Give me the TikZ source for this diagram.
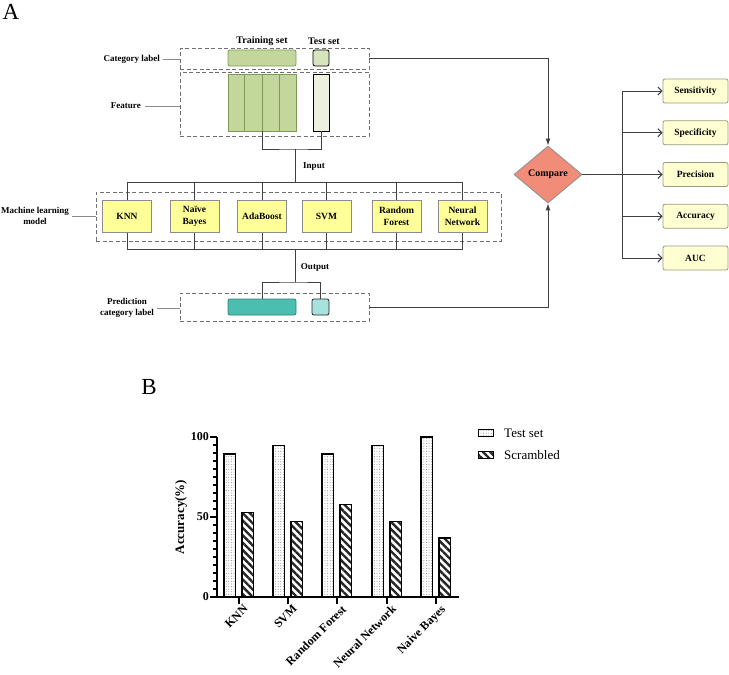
\documentclass[tikz,border=0pt]{standalone}
\usepackage{fontspec}
\setmainfont{Liberation Serif}
\usetikzlibrary{shapes.geometric,arrows.meta,patterns.meta,calc}
\definecolor{dashgray}{HTML}{707070}
\definecolor{conncol}{HTML}{404040}
\definecolor{sidegray}{HTML}{8A8A8A}
\definecolor{mlyellow}{HTML}{FFFF99}
\definecolor{boxgray}{HTML}{8C8C8C}
\definecolor{metricfill}{HTML}{FFFFD2}
\definecolor{metricborder}{HTML}{9A9A80}
\definecolor{trgreen}{HTML}{C3D69B}
\definecolor{trborder}{HTML}{7F9A55}
\definecolor{tecat}{HTML}{D7E4BD}
\definecolor{tefeat}{HTML}{EBF1DE}
\definecolor{teal1}{HTML}{4BBFAF}
\definecolor{teal2}{HTML}{A8E2DC}
\definecolor{tealborder}{HTML}{2F7F74}
\definecolor{salmon}{HTML}{F08C78}
\begin{document}
\begin{tikzpicture}[x=1pt,y=-1pt,
  lbl/.style={font=\fontsize{9}{10.5}\selectfont\bfseries, inner sep=0pt, align=center},
  hdr/.style={font=\fontsize{10}{12}\selectfont\bfseries, inner sep=0pt},
  dbox/.style={draw=dashgray, dash pattern=on 4pt off 2.5pt, line width=0.8pt, inner sep=0pt},
  mlbox/.style={draw=boxgray, fill=mlyellow, line width=0.8pt, minimum width=49pt, minimum height=32pt, inner sep=1pt, align=center, font=\fontsize{9.5}{11.7}\selectfont\bfseries},
  metric/.style={draw=metricborder, fill=metricfill, rounded corners=2pt, minimum width=65pt, minimum height=24pt, inner sep=0pt, line width=0.8pt, font=\fontsize{9.5}{11}\selectfont\bfseries},
  conn/.style={draw=conncol, line width=1pt},
  side/.style={draw=sidegray, line width=0.8pt},
  marr/.style={conn, -{Straight Barb[length=4pt,width=8pt]}},
  darr/.style={conn, -{Latex[length=7pt,width=5pt]}},
  bar/.style={draw=black, line width=1.4pt},
  testbar/.style={bar, pattern={Dots[distance=2.6pt,radius=0.45pt]}, pattern color=black!55},
  scrbar/.style={bar, pattern={Lines[angle=-45,distance=5.2pt,line width=2.4pt]}, pattern color=black!85},
  axis/.style={draw=black, line width=1.5pt},
  ticklbl/.style={font=\fontsize{12}{14}\selectfont\bfseries, inner sep=0pt}
]
\useasboundingbox (0,0) rectangle (729,675);

% ---------- Panel labels ----------
\node[font=\fontsize{23}{26}\selectfont, inner sep=0pt] (labA) at (11,12) {A};
\node[font=\fontsize{23}{26}\selectfont, inner sep=0pt] (labB) at (149,387) {B};

% ---------- Data boxes ----------
\node[dbox, minimum width=189pt, minimum height=21pt] (catbox) at (274.5,58.5) {};
\node[dbox, minimum width=189pt, minimum height=64pt] (featbox) at (274.5,104) {};
\node[draw=trborder, fill=trgreen, line width=0.8pt, rounded corners=2pt, minimum width=68pt, minimum height=16pt, inner sep=0pt] (trcat) at (262,58) {};
\node[draw=black, fill=tecat, line width=0.8pt, rounded corners=2pt, minimum width=16pt, minimum height=16pt, inner sep=0pt] (tecat) at (321,58) {};
\node[draw=trborder, fill=trgreen, line width=0.8pt, minimum width=68pt, minimum height=57pt, inner sep=0pt] (ftr) at (262,102.5) {};
\foreach \f in {0.25,0.5,0.75}
  \draw[draw=trborder, line width=0.8pt] ($(ftr.north west)!\f!(ftr.north east)$) -- ($(ftr.south west)!\f!(ftr.south east)$);
\node[draw=black, fill=tefeat, line width=0.8pt, minimum width=16pt, minimum height=57pt, inner sep=0pt] (fte) at (321,102.5) {};

\node[hdr] (trlbl) at (262,41) {Training set};
\node[hdr] (telbl) at (324,41) {Test set};

\node[lbl, anchor=east] (catlbl) at (160,59) {Category label};
\draw[side] ([xshift=3pt]catlbl.east) -- (catlbl.east -| catbox.west);
\node[lbl, anchor=east] (featlbl) at (141,106) {Feature};
\draw[side] ([xshift=4pt]featlbl.east) -- (featlbl.east -| featbox.west);

% ---------- Input ----------
\coordinate (injoin) at (295,149);
\coordinate (intop) at (295,182);
\draw[conn] (ftr.south) |- (injoin) -| (fte.south);
\draw[conn] (injoin) -- (intop);
\node[lbl] (inlbl) at (314,167) {Input};

% ---------- ML models ----------
\node[dbox, minimum width=405pt, minimum height=49pt] (mlbox) at (298.5,216.5) {};
\coordinate (outtop) at (295,249);
\coordinate (outjoin) at (295,282);
\foreach \n/\x/\t in {knn/127/KNN, nb/194.5/{Naïve\\Bayes}, ada/262/AdaBoost, svm/326.5/SVM, rf/396.5/{Random\\Forest}, nn/462.5/{Neural\\Network}}{
  \draw[conn] (\x,182) -- (\x,249);
  \node[mlbox] (\n) at (\x,216) {\t};
}
\draw[conn] (knn.north |- intop) -- (nn.north |- intop);
\draw[conn] (knn.south |- outtop) -- (nn.south |- outtop);
\node[lbl] (mllbl) at (35,216) {Machine learning\\model};
\draw[side] ([xshift=3pt]mllbl.east) -- (mllbl.east -| mlbox.west);

% ---------- Output ----------
\node[dbox, minimum width=189pt, minimum height=28pt] (predbox) at (274.5,307) {};
\node[draw=tealborder, fill=teal1, line width=0.8pt, rounded corners=2pt, minimum width=68pt, minimum height=16pt, inner sep=0pt] (prtr) at (262,307) {};
\node[draw=black!85, fill=teal2, line width=0.8pt, rounded corners=2pt, minimum width=17pt, minimum height=16pt, inner sep=0pt] (prte) at (320.5,307) {};
\draw[conn] (outtop) -- (outjoin);
\draw[conn] (prtr.north) |- (outjoin) -| (prte.north);
\node[lbl] (outlbl) at (315,267) {Output};
\node[lbl] (predlbl) at (127,308) {Prediction\\category label};
\draw[side] ([xshift=3pt]predlbl.east) -- (predlbl.east -| predbox.west);

% ---------- Compare ----------
\node[diamond, draw=boxgray, fill=salmon, line width=0.8pt, minimum width=68pt, minimum height=57pt, inner sep=0pt, font=\fontsize{10}{12}\selectfont\bfseries] (cmp) at (548,174.5) {Compare};
\draw[darr] (catbox.east) -| (cmp.north);
\draw[darr] (predbox.east) -| (cmp.south);

\node[metric] (sens) at (695.5,91) {Sensitivity};
\node[metric] (spec) at (695.5,132.75) {Specificity};
\node[metric] (prec) at (695.5,174.5) {Precision};
\node[metric] (accu) at (695.5,216.25) {Accuracy};
\node[metric] (auc) at (695.5,258) {AUC};
\coordinate (mx) at (622,174.5);
\draw[conn] (sens.west -| mx) -- (auc.west -| mx);
\draw[marr] (cmp.east) -- (prec.west);
\foreach \m in {sens,spec,accu,auc}
  \draw[marr] (\m.west -| mx) -- (\m.west);

% ---------- Chart ----------
\foreach \t/\a/\b in {239/89.47/52.63, 288/94.74/47.37, 337/89.47/57.89, 387/94.74/47.37, 436/100/36.84}{
  \draw[testbar] ({\t-15},597) rectangle ({\t-3.5},{597-1.6*\a});
  \draw[scrbar] ({\t+3},597) rectangle ({\t+14.5},{597-1.6*\b});
  \draw[axis] (\t,597) -- (\t,604);
}
\foreach \v in {5,10,...,95}
  \draw[draw=black, line width=1.2pt] (213,{597-1.6*\v}) -- (217,{597-1.6*\v});
\foreach \v in {0,50,100}{
  \draw[draw=black, line width=1.4pt] (210,{597-1.6*\v}) -- (217,{597-1.6*\v});
  \node[ticklbl, anchor=east] at (209,{597-1.6*\v}) {\v};
}
\draw[axis] (217,437) -- (217,597) -- (459,597);
\foreach \t/\n in {239/KNN, 288/SVM, 337/Random Forest, 387/Neural Network, 436/Naive Bayes}
  \node[ticklbl, rotate=45, anchor=north east] at ({\t+4},604) {\n};
\node[font=\fontsize{13}{15}\selectfont\bfseries, rotate=90, inner sep=0pt] (ylbl) at (181,517) {Accuracy(\%)};

\node[testbar, line width=1.2pt, minimum width=15pt, minimum height=7pt, inner sep=0pt] (lg1) at (486,433) {};
\node[scrbar, line width=1.2pt, minimum width=15pt, minimum height=7pt, inner sep=0pt] (lg2) at (486,455) {};
\node[font=\fontsize{13}{15}\selectfont, anchor=west, inner sep=0pt] (lg1t) at (504,433) {Test set};
\node[font=\fontsize{13}{15}\selectfont, anchor=west, inner sep=0pt] (lg2t) at (504,455) {Scrambled};
\end{tikzpicture}
\end{document}
